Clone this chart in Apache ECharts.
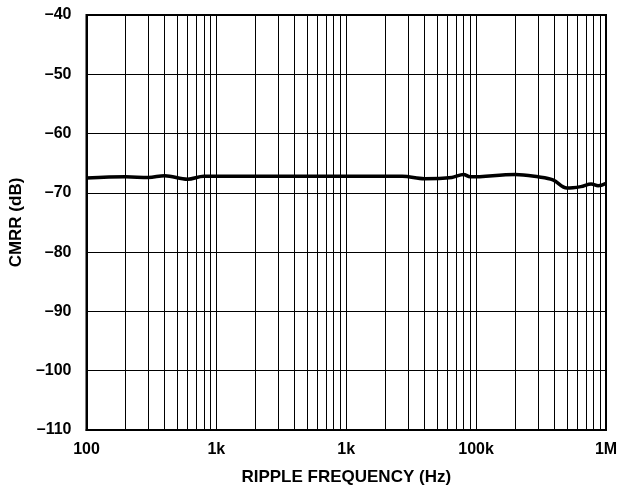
<!DOCTYPE html>
<html>
<head>
<meta charset="utf-8">
<script src="https://cdn.jsdelivr.net/npm/echarts@6/dist/echarts.min.js"></script>
<style>
  html, body { margin: 0; padding: 0; background: #fff; }
  #chart { width: 621px; height: 491px; }
</style>
</head>
<body>
<div id="chart"></div>
<script>
// Ripple frequency (Hz) and measured CMRR (dB)
const freqHz = [100, 200, 300, 400, 600, 800, 1000, 3000, 10000, 27000, 40000, 65000, 80000, 90000, 200000, 300000, 390000, 500000, 640000, 770000, 870000, 1000000];
const cmrrDb = [-67.5, -67.3, -67.4, -67.1, -67.7, -67.2, -67.2, -67.2, -67.2, -67.2, -67.6, -67.4, -66.9, -67.3, -66.9, -67.3, -67.8, -69.2, -68.95, -68.5, -68.8, -68.4];

// Decade tick labels, as printed on the axis
const xTickLabels = ['100', '1k', '1k', '100k', '1M'];
// Intermediate grid lines inside each decade
const minorGridHz = [];
[100, 1000, 10000, 100000].forEach(function (d) {
  for (let k = 2; k <= 9; k++) minorGridHz.push(d * k);
});

const font = 'Liberation Sans, Arial, Helvetica, sans-serif';
const chart = echarts.init(document.getElementById('chart'), null, { renderer: 'canvas' });

chart.setOption({
  animation: false,
  backgroundColor: '#fff',
  grid: { left: 85, right: 15, top: 15, bottom: 60, show: true, borderColor: '#000', borderWidth: 2, backgroundColor: 'transparent' },
  xAxis: {
    type: 'log',
    logBase: 10,
    min: 100,
    max: 1000000,
    name: 'RIPPLE FREQUENCY (Hz)',
    nameLocation: 'middle',
    nameGap: 39,
    nameTextStyle: { color: '#000', fontFamily: font, fontWeight: 'bold', fontSize: 17 },
    axisLine: { show: true, lineStyle: { color: '#000', width: 2 } },
    axisTick: { show: false },
    axisLabel: {
      color: '#000', fontFamily: font, fontWeight: 'bold', fontSize: 16, margin: 12,
      formatter: function (v) {
        const i = Math.round(Math.log10(v)) - 2;
        return xTickLabels[i] !== undefined ? xTickLabels[i] : '';
      }
    },
    splitLine: { show: true, lineStyle: { color: '#000', width: 1 } }
  },
  yAxis: {
    type: 'value',
    min: -110,
    max: -40,
    interval: 10,
    name: 'CMRR (dB)',
    nameLocation: 'middle',
    nameGap: 56,
    nameTextStyle: { color: '#000', fontFamily: font, fontWeight: 'bold', fontSize: 17 },
    axisLine: { show: true, lineStyle: { color: '#000', width: 2 } },
    axisTick: { show: false },
    axisLabel: {
      color: '#000', fontFamily: font, fontWeight: 'bold', fontSize: 16, margin: 15,
      formatter: function (v) { return String(v).replace('-', '\u2013'); }
    },
    splitLine: { show: true, lineStyle: { color: '#000', width: 1 } }
  },
  series: [{
    type: 'line',
    data: freqHz.map(function (f, i) { return [f, cmrrDb[i]]; }),
    smooth: 0.35,
    symbol: 'none',
    lineStyle: { color: '#000', width: 3.5 },
    z: 5,
    markLine: {
      silent: true,
      symbol: ['none', 'none'],
      label: { show: false },
      lineStyle: { color: '#000', width: 1, type: 'solid' },
      data: minorGridHz.map(function (f) { return { xAxis: f }; }),
      z: 1
    }
  }]
});
</script>
</body>
</html>
